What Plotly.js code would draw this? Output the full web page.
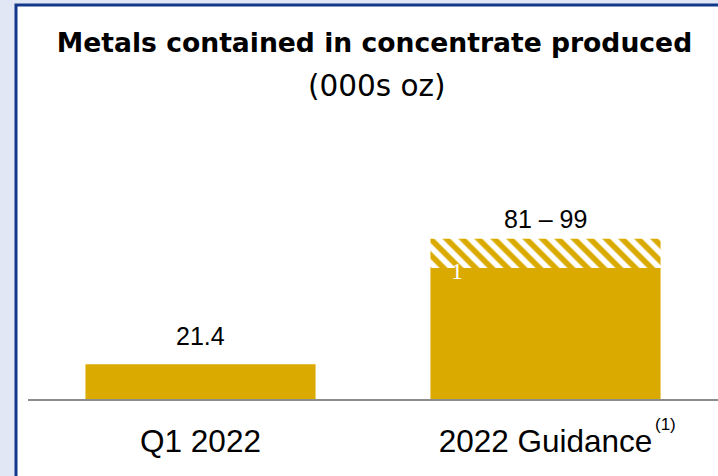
<!DOCTYPE html>
<html>
<head>
<meta charset="utf-8">
<script src="https://cdn.plot.ly/plotly-3.0.1.min.js"></script>
<style>
html,body{margin:0;padding:0;background:#E1E7F5;}
#chart{width:718px;height:476px;}
</style>
</head>
<body>
<div id="chart"></div>
<script>
// ---- data ----
const categories = ['Q1 2022', '2022 Guidance'];
const tickLabels = ['Q1 2022', '2022 Guidance'];
const footnoteMark = '(1)';
const producedValues = [21.4, 81];
const guidanceLow = [null, 81];
const guidanceHigh = [null, 99];
const valueLabels = ['21.4', '81 – 99'];
const labelTops = [21.4, 99];
const innerNote = '1';
const titleLine1 = 'Metals contained in concentrate produced';
const titleLine2 = '(000s oz)';

const gold = '#DBAA00';
const navy = '#12388A';

const rangeSpan = guidanceHigh.map((h, i) => (h === null ? null : h - guidanceLow[i]));

const traces = [
  {
    type: 'bar',
    x: categories,
    y: producedValues,
    marker: { color: gold, line: { width: 0 } },
    hoverinfo: 'skip'
  },
  {
    type: 'bar',
    x: categories,
    y: rangeSpan,
    base: guidanceLow,
    marker: {
      color: gold,
      line: { width: 0 },
      pattern: { shape: '\\', fgcolor: gold, bgcolor: '#FFFFFF', size: 11.3, solidity: 0.5 }
    },
    hoverinfo: 'skip'
  }
];

// plot area geometry: l=28, top=140, bottom at 399
const PL = 28, PW = 690, PT = 140, PH = 259;
const px2paperX = (px) => (px - PL) / PW;
const px2paperY = (py) => (PT + PH - py) / PH;

const labelFont = { family: 'Liberation Sans, Arial, sans-serif', size: 25, color: '#000' };

const annotations = [
  {
    x: categories[0], y: labelTops[0], xref: 'x', yref: 'y',
    text: valueLabels[0], showarrow: false, yanchor: 'middle', yshift: 28,
    font: labelFont
  },
  {
    x: categories[1], y: labelTops[1], xref: 'x', yref: 'y',
    text: valueLabels[1], showarrow: false, yanchor: 'middle', yshift: 20,
    font: labelFont
  },
  {
    x: 0.743, y: producedValues[1], xref: 'x', yref: 'y',
    text: innerNote, showarrow: false, yanchor: 'middle', xanchor: 'center', yshift: -3,
    font: { family: 'Liberation Serif, DejaVu Serif, serif', size: 24, color: '#FFFFFF' }
  },
  {
    x: px2paperX(376.5), y: px2paperY(86), xref: 'paper', yref: 'paper',
    text: titleLine2, showarrow: false, xanchor: 'center', yanchor: 'middle',
    font: { family: 'DejaVu Sans, sans-serif', size: 29.5, color: '#000' }
  },
  {
    x: px2paperX(665), y: px2paperY(424), xref: 'paper', yref: 'paper',
    text: footnoteMark, showarrow: false, xanchor: 'center', yanchor: 'middle',
    font: { family: 'Liberation Sans, Arial, sans-serif', size: 17, color: '#000' }
  }
];

const layout = {
  width: 718,
  height: 476,
  margin: { l: PL, r: 0, t: PT, b: 476 - PT - PH, pad: 0 },
  paper_bgcolor: '#E1E7F5',
  plot_bgcolor: 'rgba(0,0,0,0)',
  barmode: 'overlay',
  bargap: 0.333,
  showlegend: false,
  title: {
    text: '<b>' + titleLine1 + '</b>',
    x: 374.5 / 718, xref: 'container', xanchor: 'center',
    y: 1 - 42.5 / 476, yref: 'container', yanchor: 'middle',
    font: { family: 'DejaVu Sans, sans-serif', size: 26.6, color: '#000' }
  },
  xaxis: {
    type: 'category',
    tickvals: categories,
    ticktext: tickLabels,
    showline: true, linecolor: '#8C8C8C', linewidth: 2,
    ticks: '', showgrid: false, zeroline: false,
    ticklabelstandoff: 13,
    tickfont: { family: 'Liberation Sans, Arial, sans-serif', size: 31.5, color: '#000' },
    fixedrange: true
  },
  yaxis: {
    range: [0, 160],
    visible: false, showgrid: false, zeroline: false, fixedrange: true
  },
  shapes: [
    {
      type: 'rect', xref: 'paper', yref: 'paper', layer: 'below',
      x0: px2paperX(16), x1: px2paperX(740),
      y0: px2paperY(500), y1: px2paperY(5),
      fillcolor: '#FFFFFF',
      line: { color: navy, width: 3 }
    }
  ],
  annotations: annotations
};

Plotly.newPlot('chart', traces, layout, { displayModeBar: false, staticPlot: true });
</script>
</body>
</html>
